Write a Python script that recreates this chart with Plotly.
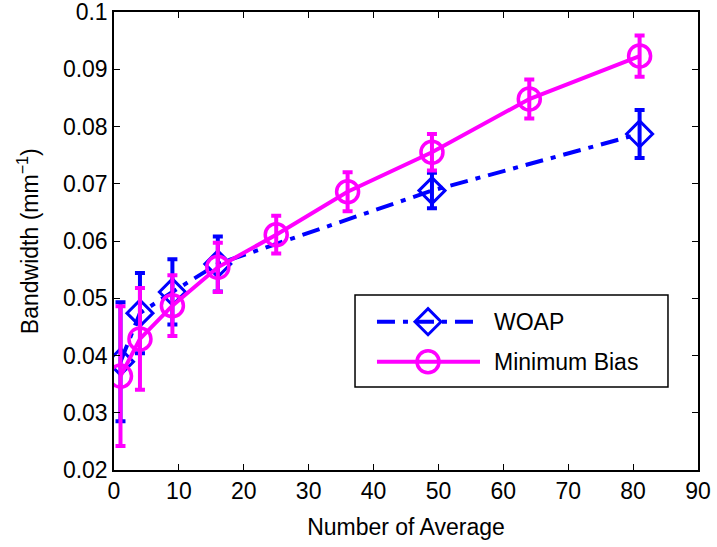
import plotly.graph_objects as go

# Number of frames averaged
n_avg = [1, 4, 9, 16, 25, 36, 49, 64, 81]

# WOAP estimates (measured only at a subset of averages)
woap_x = [1, 4, 9, 16, 49, 81]
woap_bw = [0.0389, 0.0474, 0.0511, 0.0560, 0.0688, 0.0787]
woap_err = [0.0104, 0.0070, 0.0057, 0.0048, 0.0031, 0.0042]

# Minimum-bias estimates
minbias_bw = [0.0364, 0.0429, 0.0487, 0.0554, 0.0611, 0.0686, 0.0755, 0.0848, 0.0923]
minbias_err = [0.0122, 0.0089, 0.0053, 0.0043, 0.0033, 0.0034, 0.0032, 0.0034, 0.0036]

series_names = ["WOAP", "Minimum Bias"]

BLUE = "#0000FF"
MAGENTA = "#FF00FF"
FONT = "Liberation Sans, Arial, Helvetica, sans-serif"
DASHDOT = "18px,8px,5px,8px"

woap_marker = dict(symbol="diamond-open", size=20, color=BLUE, line=dict(width=3, color=BLUE))
mb_marker = dict(symbol="circle-open", size=22, color=MAGENTA, line=dict(width=3.5, color=MAGENTA))

fig = go.Figure()

fig.add_trace(go.Scatter(
    x=woap_x, y=woap_bw, name=series_names[0], mode="lines+markers",
    line=dict(color=BLUE, width=4, dash=DASHDOT),
    marker=woap_marker, showlegend=False,
    error_y=dict(type="data", array=woap_err, visible=True, color=BLUE, thickness=4, width=5),
))

fig.add_trace(go.Scatter(
    x=n_avg, y=minbias_bw, name=series_names[1], mode="lines+markers",
    line=dict(color=MAGENTA, width=4),
    marker=mb_marker, showlegend=False,
    error_y=dict(type="data", array=minbias_err, visible=True, color=MAGENTA, thickness=4, width=5),
))

# ---- boxed legend in the lower right of the axes (fractions of the plot area) ----
box_x0, box_x1 = 0.4127, 0.9486
box_y0, box_y1 = 0.1812, 0.3821
row_y = [0.3238, 0.2365]
sample_x0, sample_x1, sample_mid = 0.4503, 0.6267, 0.5377
text_x = 0.6473

fig.add_shape(type="rect", xref="x domain", yref="y domain",
              x0=box_x0, x1=box_x1, y0=box_y0, y1=box_y1,
              line=dict(color="black", width=1.5), fillcolor="white", layer="below")
fig.add_shape(type="line", xref="x domain", yref="y domain",
              x0=sample_x0, x1=sample_x1, y0=row_y[0], y1=row_y[0],
              line=dict(color=BLUE, width=4, dash=DASHDOT), layer="below")
fig.add_shape(type="line", xref="x domain", yref="y domain",
              x0=sample_x0, x1=sample_x1, y0=row_y[1], y1=row_y[1],
              line=dict(color=MAGENTA, width=4), layer="below")

# legend glyphs on an overlay axis spanning the plot area
fig.add_trace(go.Scatter(
    x=[sample_mid], y=[row_y[0]], mode="markers", marker=woap_marker,
    xaxis="x2", yaxis="y2", showlegend=False, hoverinfo="skip", cliponaxis=False,
))
fig.add_trace(go.Scatter(
    x=[sample_mid], y=[row_y[1]], mode="markers", marker=mb_marker,
    xaxis="x2", yaxis="y2", showlegend=False, hoverinfo="skip", cliponaxis=False,
))

for name, yy in zip(series_names, row_y):
    fig.add_annotation(text=name, xref="x domain", yref="y domain", x=text_x, y=yy,
                       xanchor="left", yanchor="middle", showarrow=False,
                       font=dict(family=FONT, size=23, color="black"))

# y-axis title, set a little further out than plotly's automatic placement
fig.add_annotation(text="Bandwidth (mm<sup>−1</sup>)", xref="paper", yref="paper",
                   x=-0.147, y=0.5, xanchor="center", yanchor="middle", textangle=-90,
                   showarrow=False, font=dict(family=FONT, size=23, color="black"))

axis_common = dict(
    showline=True, linecolor="black", linewidth=1.5, mirror="ticks",
    ticks="inside", ticklen=6, tickwidth=1, tickcolor="black",
    showgrid=False, zeroline=False, automargin=False, ticklabeloverflow="allow",
    tickfont=dict(family=FONT, size=23, color="black"),
)

fig.update_xaxes(
    range=[0, 90], tick0=0, dtick=10,
    title=dict(text="Number of Average", font=dict(family=FONT, size=23, color="black"), standoff=16),
    **axis_common,
)
fig.update_yaxes(
    range=[0.02, 0.1], tick0=0.02, dtick=0.01, tickformat="~g",
    **axis_common,
)

fig.update_layout(
    width=717, height=547,
    margin=dict(l=114, r=19, t=12, b=77, autoexpand=False),
    paper_bgcolor="white", plot_bgcolor="white",
    font=dict(family=FONT, size=23, color="black"),
    showlegend=False,
    xaxis2=dict(overlaying="x", range=[0, 1], visible=False, fixedrange=True, automargin=False),
    yaxis2=dict(overlaying="y", range=[0, 1], visible=False, fixedrange=True, automargin=False),
)

fig.write_html("out.html")
